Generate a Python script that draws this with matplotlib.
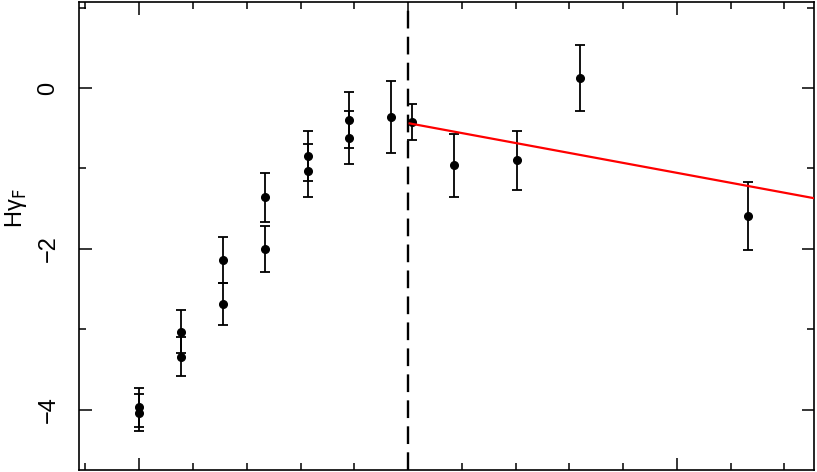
import matplotlib
matplotlib.use("Agg")
import matplotlib.pyplot as plt
from matplotlib.ticker import MultipleLocator

# measurements (x in arbitrary units, minor tick = 1)
x_pts = [0.0, 0.0, 0.78, 0.78, 1.56, 1.56, 2.34, 2.34, 3.13, 3.13,
         3.90, 3.90, 4.69, 5.08, 5.85, 7.03, 8.20, 11.32]
y_pts = [-3.97, -4.04, -3.03, -3.34, -2.14, -2.69, -1.36, -2.00, -0.85, -1.03,
         -0.40, -0.62, -0.36, -0.42, -0.96, -0.90, 0.13, -1.59]
y_err = [0.24, 0.23, 0.27, 0.24, 0.29, 0.26, 0.305, 0.285, 0.31, 0.33,
         0.35, 0.33, 0.45, 0.22, 0.39, 0.37, 0.41, 0.42]

# break position and linear fit beyond it
x_break = 5.0
fit_x = [5.03, 12.6]
fit_y = [-0.44, -1.376]

plt.rcParams['font.family'] = ['Liberation Sans', 'DejaVu Sans']

fig = plt.figure(figsize=(8.17, 4.72), dpi=100)
ax = fig.add_axes([79 / 817, 2 / 472, (814 - 79) / 817, (470 - 2) / 472])

ax.errorbar(x_pts, y_pts, yerr=y_err, fmt='o', color='black', ms=5.5,
            elinewidth=1.3, capsize=3.5, capthick=1.3, zorder=3)
ax.axvline(x_break, color='black', lw=1.7, dashes=(7.5, 3.5), zorder=2)
ax.plot(fit_x, fit_y, color='red', lw=1.6, zorder=4)

ax.set_xlim(-1.12, 12.55)
ax.set_ylim(-4.75, 1.07)

ax.xaxis.set_major_locator(MultipleLocator(5))
ax.xaxis.set_minor_locator(MultipleLocator(1))
ax.yaxis.set_minor_locator(MultipleLocator(1))
ax.tick_params(which='both', direction='in', top=True, right=True,
               width=1.1, labelsize=17)
ax.tick_params(which='major', length=9)
ax.tick_params(which='minor', length=5)
ax.tick_params(axis='x', labelbottom=False)
ax.tick_params(axis='y', pad=14)
ax.set_yticks([0, -2, -4])
ax.set_yticklabels(['0', '\u22122', '\u22124'], rotation=90, va='center')

for sp in ax.spines.values():
    sp.set_linewidth(1.2)

ax.set_ylabel('H\u03b3$_{\\rm F}$', fontsize=17)
ax.yaxis.set_label_coords(-0.068, 0.56)

fig.savefig('out.png', dpi=100)
